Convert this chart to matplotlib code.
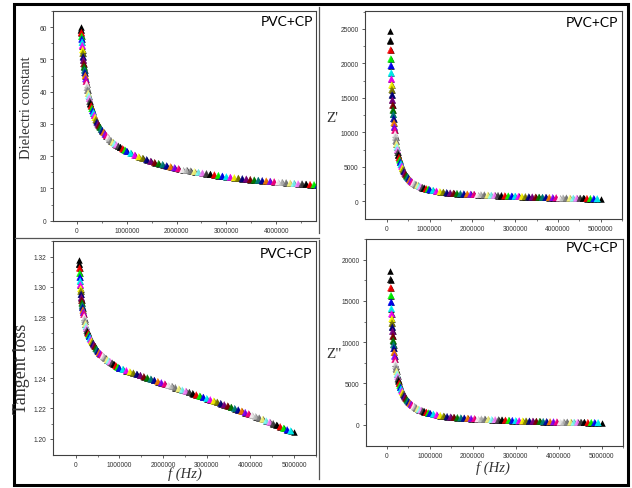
import numpy as np
import matplotlib
matplotlib.use('Agg')
import matplotlib.pyplot as plt
from matplotlib.patches import Rectangle
from matplotlib.lines import Line2D

# frequency in kHz (same for all four panels)
freq_khz = [80, 84, 88, 93, 97, 102, 107, 113, 118, 124,
            130, 137, 144, 151, 158, 166, 175, 183, 193, 202,
            212, 223, 234, 246, 258, 271, 284, 299, 314, 329,
            346, 363, 381, 400, 420, 441, 463, 486, 511, 536,
            563, 591, 621, 652, 684, 719, 755, 792, 832, 873,
            917, 963, 1000,
            1080, 1160, 1240, 1320, 1400, 1480, 1560, 1640, 1720, 1800,
            1880, 1960, 2040, 2120, 2200, 2280, 2360, 2440, 2520, 2600,
            2680, 2760, 2840, 2920, 3000, 3080, 3160, 3240, 3320, 3400,
            3480, 3560, 3640, 3720, 3800, 3880, 3960, 4040, 4120, 4200,
            4280, 4360, 4440, 4520, 4600, 4680, 4760, 4840, 4920, 5000]

dielectric = [60.0, 59.1, 58.3, 57.1, 56.3, 55.3, 54.3, 53.0, 51.9, 50.8,
              49.8, 48.7, 47.7, 46.7, 45.9, 45.0, 44.0, 43.2, 42.3, 41.3,
              40.4, 39.5, 38.7, 37.9, 37.0, 36.3, 35.6, 34.8, 34.1, 33.4,
              32.7, 32.0, 31.3, 30.6, 30.0, 29.5, 29.0, 28.4, 27.9, 27.4,
              26.9, 26.4, 25.8, 25.3, 24.8, 24.3, 23.9, 23.5, 23.1, 22.7,
              22.3, 21.9, 21.5,
              20.9, 20.3, 19.8, 19.3, 18.9, 18.4, 18.0, 17.7, 17.4, 17.0,
              16.7, 16.4, 16.1, 15.8, 15.6, 15.4, 15.2, 14.95, 14.75, 14.55,
              14.35, 14.2, 14.0, 13.8, 13.6, 13.45, 13.3, 13.15, 13.0, 12.9,
              12.75, 12.6, 12.5, 12.4, 12.3, 12.2, 12.05, 11.95, 11.85, 11.75,
              11.65, 11.55, 11.45, 11.4, 11.3, 11.2, 11.15, 11.05, 11.0, 10.9]

z_real = [24700, 23300, 21950, 20650, 19680, 18620, 17750, 16880, 16200, 15430,
          14700, 13950, 13250, 12600, 12000, 11400, 10800, 10300, 9750, 9300,
          8810, 8340, 7900, 7480, 7080, 6710, 6350, 6010, 5690, 5390,
          5100, 4830, 4570, 4330, 4100, 3880, 3670, 3480, 3290, 3120,
          2950, 2790, 2650, 2530, 2410, 2300, 2200, 2100, 2000, 1910,
          1820, 1740, 1680,
          1570, 1470, 1385, 1310, 1250, 1200, 1160, 1125, 1095, 1070,
          1045, 1020, 1000, 975, 950, 925, 900, 875, 850, 825,
          805, 785, 765, 745, 725, 700, 680, 660, 640, 620,
          600, 585, 570, 555, 540, 525, 510, 500, 485, 470,
          460, 450, 440, 430, 415, 400, 390, 375, 365, 350]

tan_loss = [1.318, 1.315, 1.3125, 1.309, 1.3065, 1.304, 1.3015, 1.2989, 1.2972, 1.2951,
            1.2930, 1.2912, 1.2895, 1.2878, 1.2864, 1.2848, 1.2834, 1.2820, 1.2803, 1.2787,
            1.2773, 1.2758, 1.2744, 1.2729, 1.2714, 1.2703, 1.2694, 1.2684, 1.2674, 1.2664,
            1.2653, 1.2644, 1.2636, 1.2627, 1.2618, 1.2608, 1.2597, 1.2587, 1.2576, 1.2568,
            1.2561, 1.2554, 1.2546, 1.2538, 1.2529, 1.2521, 1.2514, 1.2507, 1.2499, 1.2490,
            1.2482, 1.2472, 1.2465,
            1.2457, 1.2449, 1.2441, 1.2433, 1.2425, 1.2417, 1.2409, 1.2401, 1.2393, 1.2385,
            1.2377, 1.2369, 1.2361, 1.2353, 1.2345, 1.2337, 1.2329, 1.2321, 1.2313, 1.2305,
            1.2297, 1.2289, 1.2281, 1.2273, 1.2265, 1.2257, 1.2249, 1.2241, 1.2232, 1.2224,
            1.2216, 1.2207, 1.2199, 1.2190, 1.2182, 1.2173, 1.2164, 1.2155, 1.2146, 1.2137,
            1.2128, 1.2118, 1.2109, 1.2099, 1.2089, 1.2079, 1.2069, 1.2059, 1.2052, 1.2046]

z_imag = [18670, 17580, 16580, 15650, 14850, 14080, 13440, 12840, 12310, 11830,
          11320, 10740, 10200, 9700, 9240, 8780, 8320, 7930, 7510, 7160,
          6810, 6475, 6160, 5855, 5570, 5295, 5035, 4790, 4555, 4330,
          4120, 3915, 3725, 3540, 3370, 3205, 3045, 2900, 2755, 2620,
          2495, 2370, 2255, 2145, 2040, 1940, 1845, 1755, 1670, 1585,
          1510, 1435, 1385,
          1285, 1190, 1110, 1040, 985, 935, 895, 860, 830, 805,
          780, 755, 735, 715, 695, 675, 655, 635, 615, 595,
          575, 555, 535, 515, 495, 480, 465, 450, 440, 425,
          415, 400, 390, 375, 365, 355, 345, 335, 325, 318,
          310, 302, 295, 288, 280, 272, 265, 258, 250, 242]

xticks_4 = [0, 1000000, 2000000, 3000000, 4000000]
xticks_5 = [0, 1000000, 2000000, 3000000, 4000000, 5000000]
yticks_eps = [0, 10, 20, 30, 40, 50, 60]
yticks_zr = [0, 5000, 10000, 15000, 20000, 25000]
yticks_tan = [1.20, 1.22, 1.24, 1.26, 1.28, 1.30, 1.32]
yticks_zi = [0, 5000, 10000, 15000, 20000]

# Origin default colour increment list
origin_colors = ['#000000', '#FF0000', '#00FF00', '#0000FF', '#00FFFF', '#FF00FF',
                 '#FFFF00', '#808000', '#000080', '#800080', '#800000', '#008000',
                 '#008080', '#0000A0', '#FF8000', '#8000FF', '#FF0080', '#FFFFFF',
                 '#C0C0C0', '#808080', '#FFFF80', '#80FFFF', '#FF80FF', '#404040']

W, H = 632, 489
fig = plt.figure(figsize=(W / 100, H / 100), dpi=100)
fig.patch.set_facecolor('white')


def box(x0, x1, y0, y1):
    return [x0 / W, 1 - y1 / H, (x1 - x0) / W, (y1 - y0) / H]


def panel(rect, y, xlim, ylim, xt, yt, ymin_step, ylab_fmt):
    ax = fig.add_axes(box(*rect))
    f = np.array(freq_khz) * 1000.0
    y = np.array(y)
    ax.scatter(f, y, marker='^', s=22, c='black', linewidths=0, zorder=2)
    cols = [origin_colors[i % len(origin_colors)] for i in range(len(f) - 2)]
    ax.scatter(f[1:-1], y[1:-1], marker='^', s=22, c=cols, edgecolors=cols,
               linewidths=0.3, alpha=0.9, zorder=3)
    ax.set_xlim(*xlim)
    ax.set_ylim(*ylim)
    ax.set_xticks(xt)
    ax.set_xticklabels([str(v) for v in xt])
    ax.set_xticks([v + 500000 for v in xt], minor=True)
    ax.set_yticks(yt)
    ax.set_yticklabels([ylab_fmt.format(v) for v in yt])
    ax.set_yticks([v + ymin_step for v in yt], minor=True)
    for s in ax.spines.values():
        s.set_color('#404040')
        s.set_linewidth(0.8)
    ax.tick_params(which='major', direction='out', length=2.5, width=0.6,
                   colors='#404040', labelsize=4.8, pad=2)
    ax.tick_params(which='minor', direction='out', length=1.5, width=0.5,
                   colors='#404040')
    for lab in ax.get_xticklabels() + ax.get_yticklabels():
        lab.set_family('Liberation Sans')
        lab.set_color('#333333')
    return ax


ax1 = panel((53, 316, 12, 222), dielectric, (-482000, 4800000), (-0.1, 64),
            xticks_4, yticks_eps, 5, '{:d}')
ax2 = panel((365, 622, 12, 220), z_real, (-512000, 5470000), (-2570, 27610),
            xticks_5, yticks_zr, 2500, '{:d}')
ax3 = panel((53, 316, 242, 456), tan_loss, (-520000, 5440000), (1.1893, 1.3303),
            xticks_5, yticks_tan, 0.01, '{:.2f}')
ax4 = panel((366, 623, 240, 447), z_imag, (-490000, 5500000), (-2570, 22410),
            xticks_5, yticks_zi, 2500, '{:d}')

serif = 'Liberation Serif'
fig.text(27 / W, 1 - 108 / H, 'Dielectri constant', rotation=90, ha='center',
         va='center', fontsize=10.5, family=serif, color='#333333')
fig.text(22 / W, 1 - 369 / H, 'Tangent loss', rotation=90, ha='center',
         va='center', fontsize=13, family=serif, color='#333333')
fig.text(332 / W, 1 - 118 / H, "Z'", ha='center', va='center', fontsize=11,
         family=serif, color='#333333')
fig.text(334 / W, 1 - 355 / H, 'Z"', ha='center', va='center', fontsize=11,
         family=serif, color='#333333')
fig.text(185 / W, 1 - 474 / H, 'f (Hz)', ha='center', va='center', fontsize=10.5,
         family=serif, style='italic', color='#333333')
fig.text(493 / W, 1 - 468 / H, 'f (Hz)', ha='center', va='center', fontsize=10.5,
         family=serif, style='italic', color='#333333')

for xr, yc in [(313, 22), (618, 23), (312, 254), (618, 248)]:
    fig.text(xr / W, 1 - yc / H, 'PVC+CP', ha='right', va='center',
             fontsize=10, family='Lato', color='black')

# panel frames and outer border
for (xa, ya, xb, yb) in [(318.5, 8, 318.5, 234), (318.5, 241, 318.5, 480),
                         (15, 238.5, 318.5, 238.5)]:
    fig.add_artist(Line2D([xa / W, xb / W], [1 - ya / H, 1 - yb / H],
                          transform=fig.transFigure, color='#555555', lw=0.9))
fig.add_artist(Rectangle((13.5 / W, 1 - 486 / H), 614.5 / W, 481 / H,
                         transform=fig.transFigure, fill=False,
                         edgecolor='black', lw=2.2))

fig.savefig('out.png', dpi=100, facecolor='white')
